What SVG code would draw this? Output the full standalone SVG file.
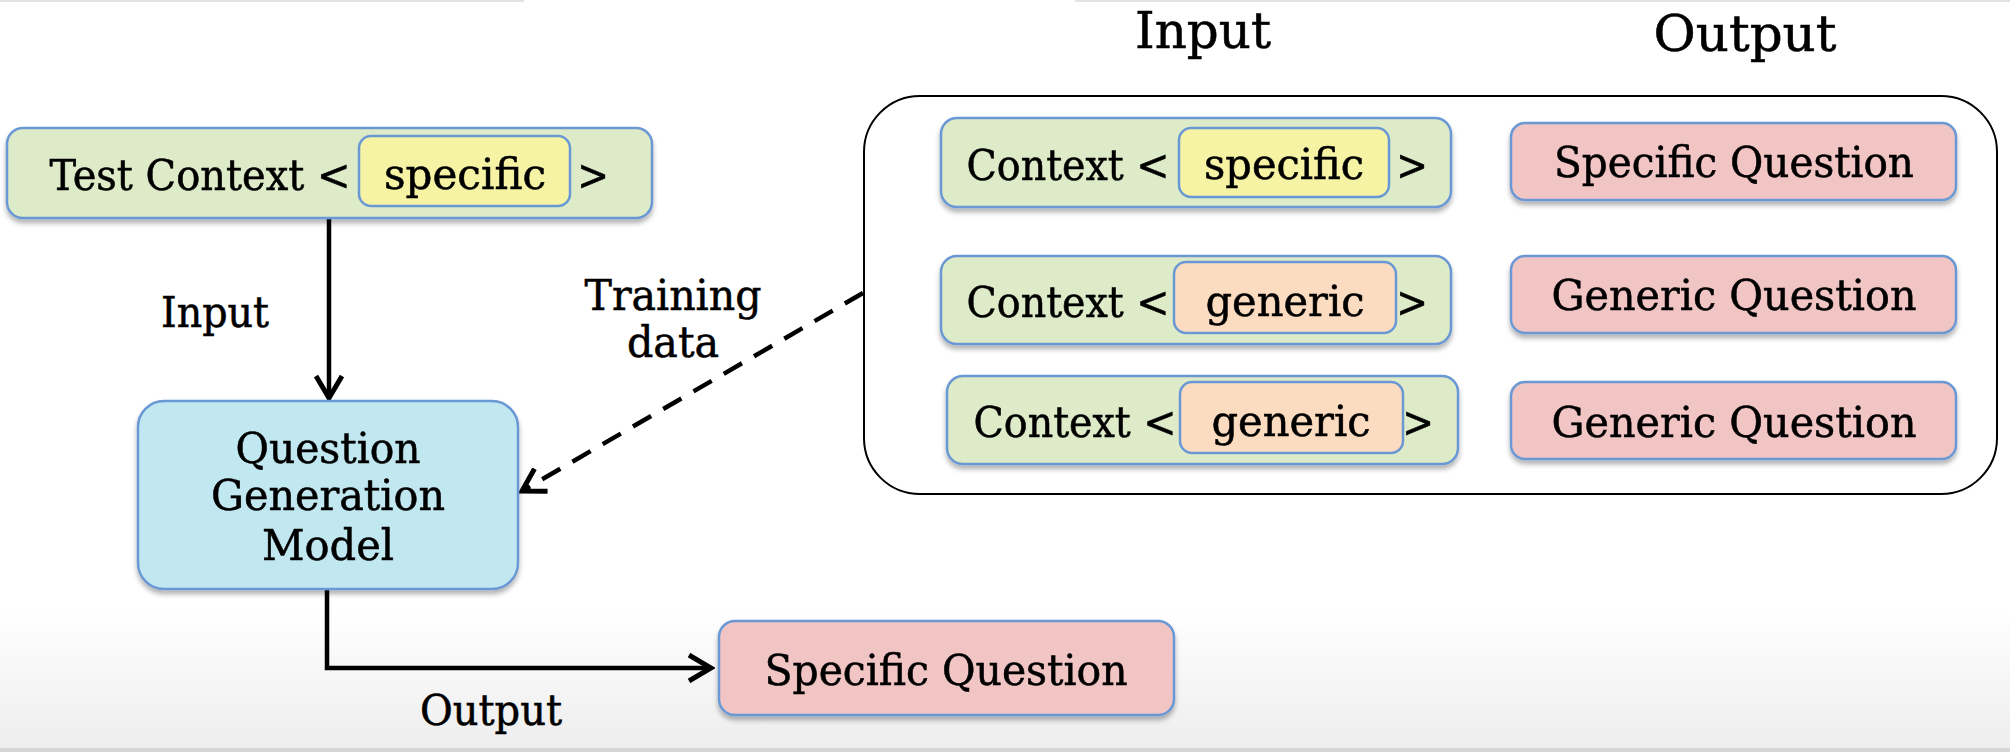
<svg xmlns="http://www.w3.org/2000/svg" width="2010" height="752" viewBox="0 0 2010 752">
<style>
  .t { font-family: "DejaVu Serif", "Liberation Serif", serif; font-stretch: condensed; font-size: 42px; fill: #000; stroke: #000; stroke-width: 0.5px; }
  .h { font-size: 51px; }
  .ctx { fill: #deebc8; stroke: #6a98d4; stroke-width: 2.5; }
  .spec { fill: #f7f3a5; stroke: #6a98d4; stroke-width: 2.5; }
  .gen { fill: #fcdcc0; stroke: #6a98d4; stroke-width: 2.5; }
  .q { fill: #f2c5c5; stroke: #6a98d4; stroke-width: 2.5; }
  .model { fill: #c1e8f0; stroke: #6a98d4; stroke-width: 2.5; }
  .conn { fill: none; stroke: #000; stroke-width: 4.5; }
</style>
<defs>
  <filter id="sh" x="-10%" y="-20%" width="120%" height="150%">
    <feDropShadow dx="0" dy="4" stdDeviation="2.5" flood-color="#000" flood-opacity="0.3"/>
  </filter>
  <linearGradient id="bg" x1="0" y1="0" x2="0" y2="1">
    <stop offset="0" stop-color="#ffffff"/>
    <stop offset="1" stop-color="#ededed"/>
  </linearGradient>
  <marker id="arr" markerUnits="userSpaceOnUse" viewBox="0 0 30 30" markerWidth="30" markerHeight="30" refX="26" refY="15" orient="auto">
    <path d="M4,2 L26,15 L4,28" fill="none" stroke="#000" stroke-width="5" stroke-dasharray="none" stroke-linejoin="miter"/>
  </marker>
</defs>

<g id="background">
  <rect x="0" y="0" width="2010" height="752" fill="#ffffff"/>
  <rect x="0" y="610" width="2010" height="142" fill="url(#bg)"/>
  <rect x="0" y="748" width="2010" height="4" fill="#d6d6d6"/>
  <rect x="0" y="0" width="524" height="2" fill="#e2e2e2"/>
  <rect x="1075" y="0" width="935" height="2" fill="#e2e2e2"/>
</g>

<g id="headers">
  <text class="t h" x="1203" y="48" text-anchor="middle" textLength="136" lengthAdjust="spacingAndGlyphs">Input</text>
  <text class="t h" x="1745" y="51" text-anchor="middle" textLength="183" lengthAdjust="spacingAndGlyphs">Output</text>
</g>

<g id="training-set">
  <rect x="864" y="96" width="1133" height="398" rx="56" ry="56" fill="none" stroke="#000" stroke-width="2"/>
</g>

<g id="connectors">
  <path class="conn" d="M329,218 V398" marker-end="url(#arr)"/>
  <path class="conn" d="M863,293 L522,491" stroke-width="5" stroke-dasharray="21,14" marker-end="url(#arr)"/>
  <path class="conn" d="M327,589 V668 H711" marker-end="url(#arr)"/>
  <text class="t" x="215" y="327" text-anchor="middle" textLength="108" lengthAdjust="spacingAndGlyphs">Input</text>
  <text class="t" x="673" y="310" text-anchor="middle" textLength="177" lengthAdjust="spacingAndGlyphs">Training</text>
  <text class="t" x="673" y="357" text-anchor="middle" textLength="92" lengthAdjust="spacingAndGlyphs">data</text>
  <text class="t" x="491" y="725" text-anchor="middle" textLength="142" lengthAdjust="spacingAndGlyphs">Output</text>
</g>

<g id="test-context" filter="url(#sh)">
  <rect class="ctx" x="7" y="128" width="645" height="90" rx="16"/>
  <rect class="spec" x="359" y="136" width="211" height="70" rx="12"/>
  <text class="t" x="200" y="190" text-anchor="middle" textLength="301" lengthAdjust="spacingAndGlyphs">Test Context &lt;</text>
  <text class="t" x="465" y="189" text-anchor="middle" textLength="162" lengthAdjust="spacingAndGlyphs">specific</text>
  <text class="t" x="593" y="190" text-anchor="middle">&gt;</text>
</g>

<g id="qg-model" filter="url(#sh)">
  <rect class="model" x="138" y="401" width="380" height="188" rx="26"/>
  <text class="t" x="328" y="463" text-anchor="middle" textLength="185" lengthAdjust="spacingAndGlyphs">Question</text>
  <text class="t" x="328" y="510" text-anchor="middle" textLength="234" lengthAdjust="spacingAndGlyphs">Generation</text>
  <text class="t" x="328" y="560" text-anchor="middle" textLength="132" lengthAdjust="spacingAndGlyphs">Model</text>
</g>

<g id="output-question" filter="url(#sh)">
  <rect class="q" x="719" y="621" width="455" height="94" rx="16"/>
  <text class="t" x="946" y="685" text-anchor="middle" textLength="363" lengthAdjust="spacingAndGlyphs">Specific Question</text>
</g>

<g id="train-ctx-1" filter="url(#sh)">
  <rect class="ctx" x="941" y="118" width="510" height="89" rx="16"/>
  <rect class="spec" x="1179" y="128" width="210" height="69" rx="12"/>
  <text class="t" x="1068" y="180" text-anchor="middle" textLength="203" lengthAdjust="spacingAndGlyphs">Context &lt;</text>
  <text class="t" x="1284" y="179" text-anchor="middle" textLength="160" lengthAdjust="spacingAndGlyphs">specific</text>
  <text class="t" x="1412" y="180" text-anchor="middle">&gt;</text>
</g>

<g id="train-ctx-2" filter="url(#sh)">
  <rect class="ctx" x="941" y="256" width="510" height="88" rx="16"/>
  <rect class="gen" x="1174" y="262" width="222" height="71" rx="12"/>
  <text class="t" x="1068" y="317" text-anchor="middle" textLength="203" lengthAdjust="spacingAndGlyphs">Context &lt;</text>
  <text class="t" x="1285" y="316" text-anchor="middle" textLength="159" lengthAdjust="spacingAndGlyphs">generic</text>
  <text class="t" x="1412" y="317" text-anchor="middle">&gt;</text>
</g>

<g id="train-ctx-3" filter="url(#sh)">
  <rect class="ctx" x="947" y="376" width="511" height="88" rx="16"/>
  <rect class="gen" x="1180" y="382" width="223" height="71" rx="12"/>
  <text class="t" x="1075" y="437" text-anchor="middle" textLength="203" lengthAdjust="spacingAndGlyphs">Context &lt;</text>
  <text class="t" x="1291" y="436" text-anchor="middle" textLength="159" lengthAdjust="spacingAndGlyphs">generic</text>
  <text class="t" x="1418" y="437" text-anchor="middle">&gt;</text>
</g>

<g id="train-q-1" filter="url(#sh)">
  <rect class="q" x="1511" y="123" width="445" height="77" rx="14"/>
  <text class="t" x="1734" y="177" text-anchor="middle" textLength="360" lengthAdjust="spacingAndGlyphs">Specific Question</text>
</g>

<g id="train-q-2" filter="url(#sh)">
  <rect class="q" x="1511" y="256" width="445" height="77" rx="14"/>
  <text class="t" x="1734" y="310" text-anchor="middle" textLength="365" lengthAdjust="spacingAndGlyphs">Generic Question</text>
</g>

<g id="train-q-3" filter="url(#sh)">
  <rect class="q" x="1511" y="382" width="445" height="77" rx="14"/>
  <text class="t" x="1734" y="437" text-anchor="middle" textLength="365" lengthAdjust="spacingAndGlyphs">Generic Question</text>
</g>
</svg>
